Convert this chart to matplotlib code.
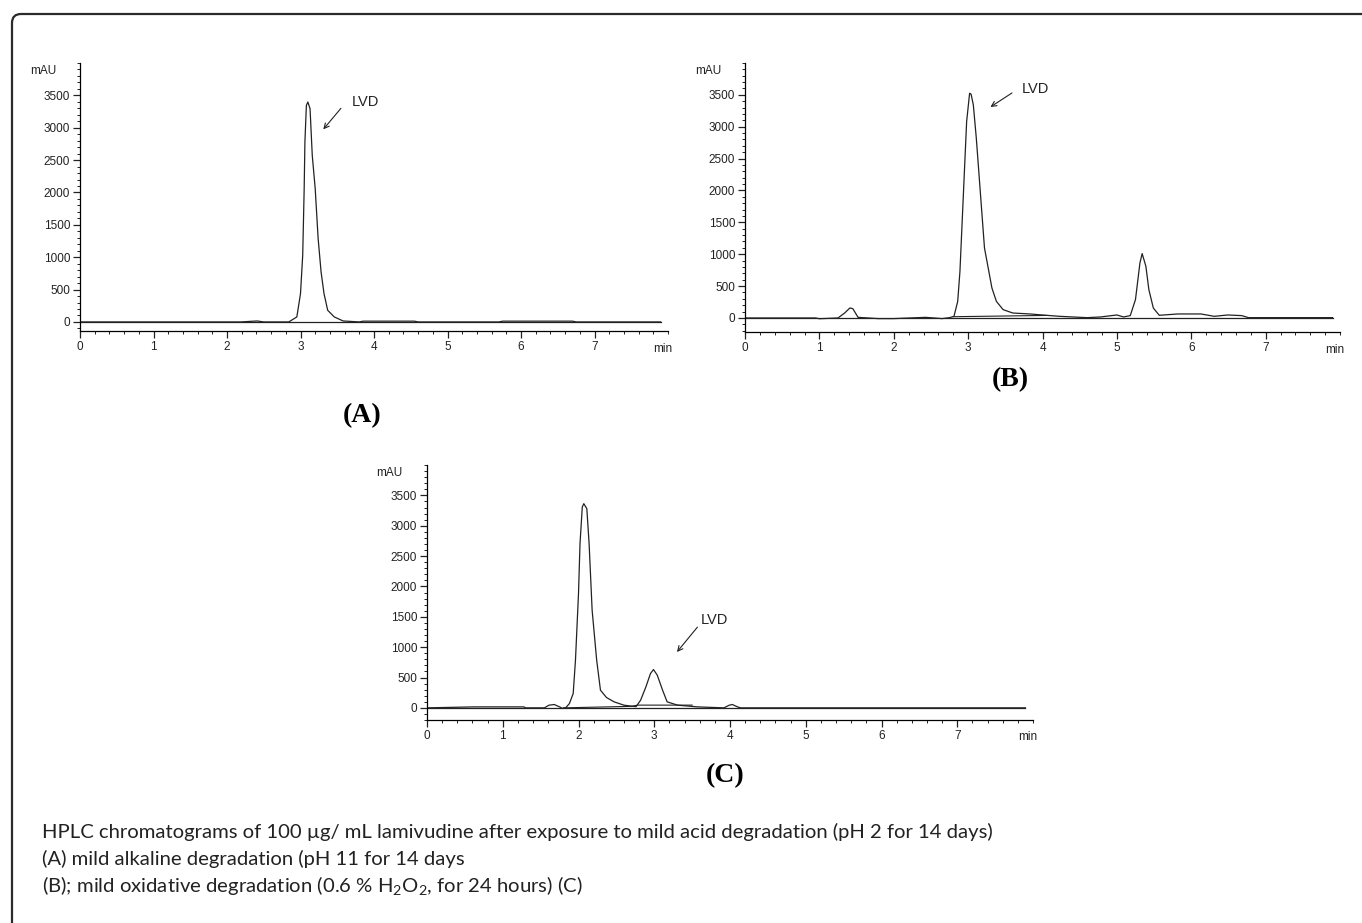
import numpy as np
import matplotlib.pyplot as plt
from matplotlib.patches import PathPatch
from matplotlib.path import Path
from matplotlib.ticker import MultipleLocator

# chromatogram traces: retention time (min), signal (mAU)
time_a = [0, 1.2, 2.19, 2.41, 2.5, 2.84, 2.95, 3.0, 3.03, 3.05, 3.06, 3.08, 3.1, 3.13,
          3.16, 3.2, 3.24, 3.28, 3.32, 3.37, 3.46, 3.58, 3.8, 3.85, 4.55, 4.6, 5.7, 5.75,
          6.7, 6.75, 7.9]
signal_a = [0, 0, 0, 15, 0, 0, 77, 437, 1030, 2060, 2780, 3345, 3397, 3294,
            2573, 2060, 1287, 772, 437, 180, 77, 15, 0, 12, 12, 0, 0, 12,
            12, 0, 0]

time_b = [0, 0.95, 1.0, 1.25, 1.34, 1.41, 1.45, 1.52, 1.79, 2.0, 2.43, 2.65, 2.75,
          2.81, 2.86, 2.89, 2.92, 2.95, 2.98, 3.02, 3.04, 3.07, 3.11, 3.16, 3.22,
          3.27, 3.32, 3.38, 3.47, 3.6, 3.83, 4.05, 4.23, 4.6, 4.78, 5.0, 5.09,
          5.18, 5.25, 5.31, 5.34, 5.39, 5.43, 5.49, 5.57, 5.82, 6.13, 6.31, 6.49,
          6.68, 6.77, 7.9]
signal_b = [0, 0, -12, 0, 78, 157, 146, 10, -10, -10, 10, -10, 5,
            26, 261, 731, 1515, 2300, 3082, 3526, 3510, 3343, 2821, 2037, 1097,
            784, 470, 261, 131, 78, 63, 42, 26, 5, 16, 47, 16,
            37, 288, 863, 1010, 811, 445, 157, 42, 63, 63, 26, 47,
            37, 5, 5]

time_c = [0, 0.62, 1.28, 1.3, 1.55, 1.61, 1.68, 1.75, 1.79, 1.83, 1.88, 1.93, 1.96,
          2.0, 2.02, 2.05, 2.07, 2.11, 2.14, 2.18, 2.24, 2.29, 2.37, 2.47, 2.6,
          2.71, 2.76, 2.82, 2.89, 2.95, 2.99, 3.04, 3.11, 3.17, 3.31, 3.57, 3.92,
          3.99, 4.03, 4.1, 4.14, 7.9]
signal_c = [0, 16, 16, 0, 0, 44, 55, 16, -10, 0, 71, 236, 785,
            1882, 2705, 3308, 3363, 3281, 2705, 1607, 785, 291, 170, 99, 44,
            27, 20, 126, 346, 565, 631, 538, 291, 99, 44, 16, 0,
            44, 55, 16, 0, 0]

# integration baselines drawn under the peaks
base_b_t = [2.8, 4.05]
base_b_s = [20, 40]
base_c_t = [1.8, 2.7, 2.78, 3.5]
base_c_s = [0, 25, 45, 45]

# LVD label positions: (arrow tail x, y, arrow tip x, y, text x, y)
lvd_a = (3.55, 3300, 3.31, 2975, 3.70, 3390)
lvd_b = (3.59, 3530, 3.30, 3310, 3.72, 3595)
lvd_c = (3.57, 1330, 3.30, 920, 3.61, 1445)

y_ticks = [0, 500, 1000, 1500, 2000, 2500, 3000, 3500]
x_ticks = [0, 1, 2, 3, 4, 5, 6, 7]

W, H = 1362, 923
fig = plt.figure(figsize=(W / 100, H / 100), dpi=100)

# rounded frame: only top and left edges are inside the picture
r = 9
pts = [(12, H), (12, 14 + r), (12, 14), (12 + r, 14), (W, 14)]
codes = [Path.MOVETO, Path.LINETO, Path.CURVE3, Path.CURVE3, Path.LINETO]
frame_path = Path([(x / W, 1 - y / H) for x, y in pts], codes)
fig.patches.append(PathPatch(frame_path, transform=fig.transFigure, fill=False,
                             edgecolor='#2b2b2b', linewidth=1.6))


def chromatogram(rect, t, s, ymin, lvd, bases=()):
    ax = fig.add_axes(rect)
    ax.plot(t, s, color='#222222', lw=0.9)
    ax.plot([0, 7.9], [0, 0], color='#222222', lw=0.9)
    for bt, bs in bases:
        ax.plot(bt, bs, color='#222222', lw=0.8)
    ax.set_xlim(0, 8)
    ax.set_ylim(ymin, 4000)
    for side in ['top', 'right']:
        ax.spines[side].set_visible(False)
    ax.spines['left'].set_linewidth(0.9)
    ax.spines['bottom'].set_linewidth(0.9)
    ax.set_xticks(x_ticks)
    ax.set_yticks(y_ticks)
    ax.xaxis.set_minor_locator(MultipleLocator(0.2))
    ax.yaxis.set_minor_locator(MultipleLocator(100))
    ax.tick_params(which='major', length=5, width=0.9, labelsize=8.5, pad=2, colors='#222222')
    ax.tick_params(which='minor', length=2.5, width=0.7, colors='#222222')
    for lab in ax.get_xticklabels() + ax.get_yticklabels():
        lab.set_fontfamily('Liberation Sans')
    ax.text(-0.04, 3870, 'mAU', ha='right', va='center', fontsize=8.5,
            family='Liberation Sans', transform=ax.get_yaxis_transform(), color='#222222')
    ax.text(7.93, -0.045, 'min', ha='center', va='top', fontsize=8.5,
            family='Liberation Sans', transform=ax.get_xaxis_transform(), color='#222222')
    ax.annotate('', xy=(lvd[2], lvd[3]), xytext=(lvd[0], lvd[1]),
                arrowprops=dict(arrowstyle='->', lw=0.8, color='#222222',
                                shrinkA=0, shrinkB=0, mutation_scale=9))
    ax.text(lvd[4], lvd[5], 'LVD', ha='left', va='center', fontsize=10.5,
            family='Liberation Sans', color='#222222')
    return ax


chromatogram([80 / W, 1 - 331 / H, 588 / W, 268 / H], time_a, signal_a, -140, lvd_a)
chromatogram([745 / W, 1 - 332 / H, 595 / W, 269 / H], time_b, signal_b, -220, lvd_b,
             bases=[(base_b_t, base_b_s)])
chromatogram([427 / W, 1 - 720 / H, 606 / W, 255 / H], time_c, signal_c, -200, lvd_c,
             bases=[(base_c_t, base_c_s)])

for lab, (px, py) in {'(A)': (362, 416), '(B)': (1010, 380), '(C)': (725, 776)}.items():
    fig.text(px / W, 1 - py / H, lab, ha='center', va='center', fontsize=20,
             fontweight='bold', family='Liberation Serif')

plt.rcParams['mathtext.fontset'] = 'custom'
plt.rcParams['mathtext.rm'] = 'Lato'
caption = [
    'HPLC chromatograms of 100 µg/ mL lamivudine after exposure to mild acid degradation (pH 2 for 14 days)',
    '(A) mild alkaline degradation (pH 11 for 14 days',
    r'(B); mild oxidative degradation (0.6 % H$_\mathregular{2}$O$_\mathregular{2}$, for 24 hours) (C)',
]
for i, line in enumerate(caption):
    fig.text(42 / W, 1 - (832 + 27 * i) / H, line, ha='left', va='center',
             fontsize=14.6, family='Lato', color='#222222')

fig.savefig('out.png', dpi=100)
